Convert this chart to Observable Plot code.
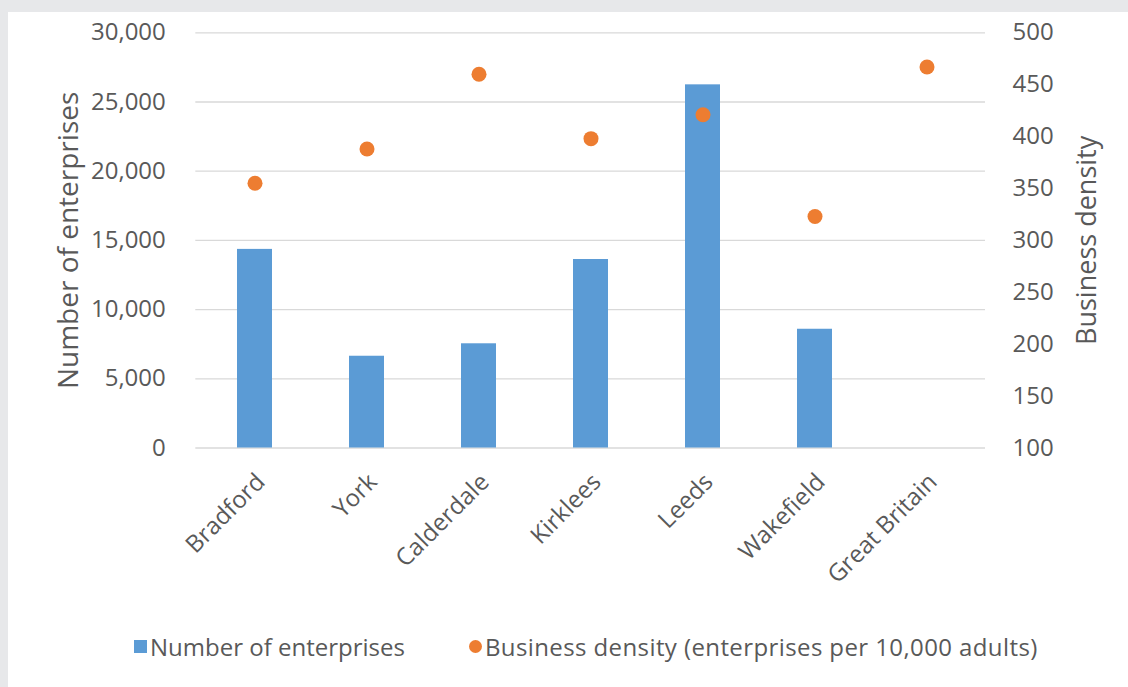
<!DOCTYPE html>
<html>
<head>
<meta charset="utf-8">
<script src="https://cdn.jsdelivr.net/npm/d3@7"></script>
<script src="https://cdn.jsdelivr.net/npm/@observablehq/plot@0.6"></script>
<style>
  html, body { margin: 0; padding: 0; background: #e7e8ea; width: 1128px; height: 687px; overflow: hidden; }
  #panel { position: absolute; left: 8px; top: 12px; width: 1120px; height: 675px; background: #fff; font-family: "Open Sans", sans-serif; color: #595959; }
  #legend { position: absolute; left: 126px; top: 618px; display: flex; align-items: center; font-size: 24px; white-space: nowrap; }
  .item { display: flex; align-items: center; }
  .item2 { margin-left: 64px; letter-spacing: 0.4px; }
  .sw { width: 13px; height: 13px; background: #5b9bd5; margin-right: 3px; }
  .dt { width: 13px; height: 13px; border-radius: 50%; background: #ed7d31; margin-right: 3px; }
</style>
</head>
<body>
<div id="panel">
  <div id="chart"></div>
  <div id="legend">
    <div class="item"><div class="sw"></div><span>Number of enterprises</span></div>
    <div class="item item2"><div class="dt"></div><span>Business density (enterprises per 10,000 adults)</span></div>
  </div>
</div>
<script>
const categories = ["Bradford", "York", "Calderdale", "Kirklees", "Leeds", "Wakefield", "Great Britain"];
const enterprises = [14350, 6630, 7530, 13620, 26240, 8580, null];
const density = [355, 388, 460, 398, 421, 323, 467];
const leftTicks = [0, 5000, 10000, 15000, 20000, 25000, 30000];
const rightTicks = [100, 150, 200, 250, 300, 350, 400, 450, 500];

const densityMin = 100, densityMax = 500, leftMax = 30000;
const k = leftMax / (densityMax - densityMin);
const toLeft = d => (d - densityMin) * k;

const rows = categories.map((c, i) => ({category: c, enterprises: enterprises[i], density: density[i]}));
const barRows = rows.filter(r => r.enterprises != null);

const grey = "#595959";
const chart = Plot.plot({
  width: 1120,
  height: 600,
  marginLeft: 187.3,
  marginRight: 143,
  marginTop: 20.3,
  marginBottom: 164.5,
  style: {fontFamily: "Open Sans, sans-serif", color: grey, background: "transparent"},
  x: {type: "band", domain: categories, paddingInner: 0.69, paddingOuter: 0.345},
  y: {domain: [0, leftMax]},
  marks: [
    Plot.ruleY(leftTicks, {stroke: "#d9d9d9", strokeWidth: 1.3}),
    Plot.barY(barRows, {x: "category", y: "enterprises", fill: "#5b9bd5"}),
    Plot.dot(rows, {x: "category", y: d => toLeft(d.density), r: 7.5, fill: "#ed7d31"}),
    Plot.axisY({anchor: "left", ticks: leftTicks, tickSize: 0, tickPadding: 30, tickFormat: d3.format(","), fontSize: 24, label: null, fill: grey}),
    Plot.axisY({anchor: "right", ticks: rightTicks.map(toLeft), tickSize: 0, tickPadding: 27, tickFormat: v => String(Math.round(v / k + densityMin)), fontSize: 24, label: null, fill: grey}),
    Plot.axisX({anchor: "bottom", tickSize: 0, tickPadding: 30, tickRotate: -45, fontSize: 24, label: null, fill: grey, dx: 6}),
    Plot.text(["Number of enterprises"], {frameAnchor: "left", text: d => d, rotate: -90, dx: -127, fontSize: 28, fill: grey, textAnchor: "middle", lineAnchor: "middle"}),
    Plot.text(["Business density"], {frameAnchor: "right", text: d => d, rotate: -90, dx: 102, fontSize: 27, fill: grey, textAnchor: "middle", lineAnchor: "middle"})
  ]
});
document.getElementById("chart").appendChild(chart);
</script>
</body>
</html>
